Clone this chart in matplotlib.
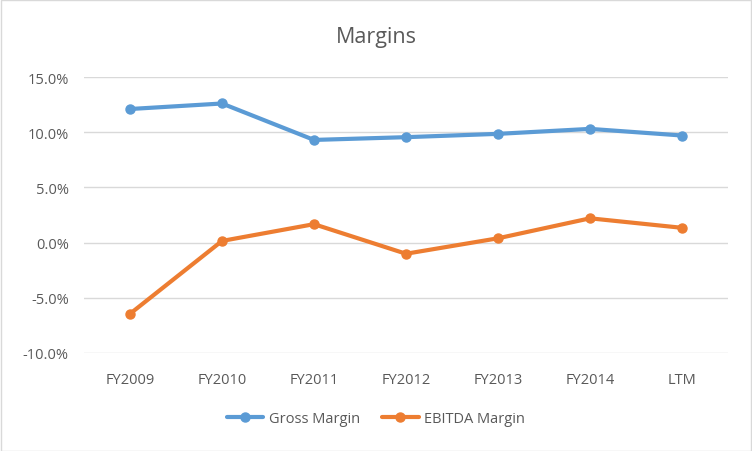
import matplotlib
matplotlib.use("Agg")
import matplotlib.pyplot as plt
from matplotlib.ticker import FuncFormatter
from matplotlib.patches import Rectangle

categories = ["FY2009", "FY2010", "FY2011", "FY2012", "FY2013", "FY2014", "LTM"]
gross_margin = [0.121, 0.126, 0.093, 0.0955, 0.0985, 0.103, 0.097]
ebitda_margin = [-0.0645, 0.0015, 0.0167, -0.0101, 0.0039, 0.022, 0.0134]
yticks = [-0.10, -0.05, 0.0, 0.05, 0.10, 0.15]

plt.rcParams['font.family'] = ['Open Sans', 'DejaVu Sans']

fig = plt.figure(figsize=(7.52, 4.52), dpi=100)
fig.patch.set_facecolor('white')
fig.add_artist(Rectangle((0.5/752, 0.5/452), 1 - 1.5/752, 1 - 1.5/452, transform=fig.transFigure,
                         fill=False, edgecolor='#D9D9D9', linewidth=1))

ax = fig.add_axes([84/752, 1 - 354/452, (728 - 84)/752, (354 - 78)/452])
x = list(range(len(categories)))
ax.plot(x, gross_margin, color='#5B9BD5', linewidth=3, marker='o', markersize=6.5,
        label='Gross Margin', solid_capstyle='round', zorder=3)
ax.plot(x, ebitda_margin, color='#ED7D31', linewidth=3, marker='o', markersize=6.5,
        label='EBITDA Margin', solid_capstyle='round', zorder=3)

ax.set_xlim(-0.5, len(categories) - 0.5)
ax.set_ylim(-0.10, 0.15)
ax.set_yticks(yticks)
ax.yaxis.set_major_formatter(FuncFormatter(lambda v, p: f"{v*100:.1f}%"))
ax.set_xticks(x)
ax.set_xticklabels(categories)
ax.grid(axis='y', color='#D9D9D9', linewidth=1)
ax.set_axisbelow(True)
for s in ax.spines.values():
    s.set_visible(False)
ax.tick_params(axis='both', length=0, colors='#595959', labelsize=10.5)
ax.tick_params(axis='x', pad=14)
ax.tick_params(axis='y', pad=11)

fig.text(0.5, 1 - 37/452, "Margins", ha='center', va='center', fontsize=15.5, color='#595959')

fig.legend(loc='center', bbox_to_anchor=(0.5, 1 - 420/452), ncol=2, frameon=False,
           fontsize=10.5, labelcolor='#595959', handlelength=2.5, columnspacing=1.5,
           handletextpad=0.4)

fig.savefig("out.png", dpi=100, facecolor='white')
